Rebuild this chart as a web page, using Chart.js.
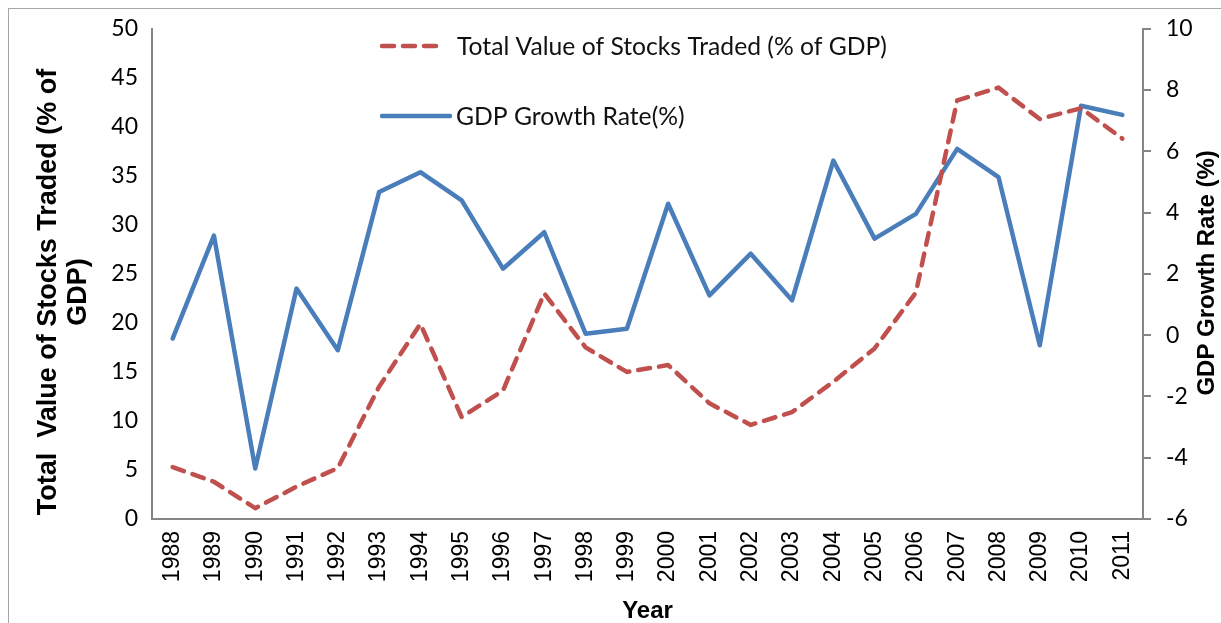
<!DOCTYPE html>
<html>
<head>
<meta charset="utf-8">
<script src="https://cdn.jsdelivr.net/npm/chart.js@4.4.1/dist/chart.umd.min.js"></script>
<style>
  html, body { margin: 0; padding: 0; background: #ffffff; }
  #wrap { position: relative; width: 1221px; height: 623px; overflow: hidden; }
  #frame { position: absolute; left: 8px; top: 8px; width: 2000px; height: 2000px;
           border: 1px solid #a6a6a6; pointer-events: none; }
  canvas { position: absolute; left: 0; top: 0; }
</style>
</head>
<body>
<div id="wrap">
  <canvas id="c" width="1221" height="623"></canvas>
  <div id="frame"></div>
</div>
<script>
// ---- data ----
const years = ['1988','1989','1990','1991','1992','1993','1994','1995','1996','1997','1998','1999',
               '2000','2001','2002','2003','2004','2005','2006','2007','2008','2009','2010','2011'];
const stocksTraded = [5.3, 3.8, 1.1, 3.3, 5.2, 13.5, 19.9, 10.4, 13.1, 23.0, 17.5, 15.0,
                      15.7, 11.8, 9.6, 10.9, 14.0, 17.4, 23.1, 42.7, 44.0, 40.8, 41.9, 38.8];
const gdpGrowth = [-0.11, 3.25, -4.35, 1.52, -0.49, 4.67, 5.32, 4.40, 2.17, 3.36, 0.05, 0.21,
                   4.29, 1.30, 2.66, 1.14, 5.70, 3.15, 3.96, 6.08, 5.16, -0.33, 7.49, 7.19];
const seriesNames = ['Total Value of Stocks Traded (% of GDP)', 'GDP Growth Rate(%)'];
const leftTitle = ['Total  Value of Stocks Traded (% of', 'GDP)'];
const rightTitle = 'GDP Growth Rate (%)';
const xTitle = 'Year';

const RED = '#C0504D';
const BLUE = '#4A7EBB';
const AXIS = '#868686';
const TITLE_FONT = '"Liberation Sans", Arial, sans-serif';

const extras = {
  id: 'extras',
  afterDraw(chart) {
    const ctx = chart.ctx;
    const area = chart.chartArea;

    // left axis title, two lines, reads bottom to top
    ctx.save();
    ctx.font = 'bold 27px ' + TITLE_FONT;
    ctx.fillStyle = '#000';
    ctx.textAlign = 'center';
    ctx.textBaseline = 'middle';
    ctx.translate(49, 292);
    ctx.rotate(-Math.PI / 2);
    ctx.fillText(leftTitle[0], 0, 0);
    ctx.fillText(leftTitle[1], 0, 30);
    ctx.restore();

    // right axis title (reads bottom to top)
    ctx.save();
    ctx.font = 'bold 24px ' + TITLE_FONT;
    ctx.fillStyle = '#000';
    ctx.textAlign = 'center';
    ctx.textBaseline = 'middle';
    ctx.translate(1207, (area.top + area.bottom) / 2 - 1);
    ctx.rotate(-Math.PI / 2);
    ctx.fillText(rightTitle, 0, 0);
    ctx.restore();

    // legend inside the plot
    const items = [
      { ds: chart.data.datasets[0], x0: 382, x1: 441, y: 46, tx: 457, w: 430 },
      { ds: chart.data.datasets[1], x0: 382, x1: 450, y: 116, tx: 456, w: 227 }
    ];
    ctx.save();
    ctx.font = '24px Lato, sans-serif';
    const fit = items[0].w / ctx.measureText(items[0].ds.label).width;
    ctx.restore();
    const fs = (24 * fit).toFixed(2);
    items.forEach(it => {
      ctx.save();
      ctx.strokeStyle = it.ds.borderColor;
      ctx.lineWidth = it.ds.borderWidth;
      ctx.lineCap = 'round';
      ctx.setLineDash(it.ds.borderDash || []);
      ctx.beginPath();
      ctx.moveTo(it.x0, it.y);
      ctx.lineTo(it.x1, it.y);
      ctx.stroke();
      ctx.restore();
      ctx.save();
      ctx.fillStyle = '#111';
      ctx.textAlign = 'left';
      ctx.textBaseline = 'middle';
      ctx.font = fs + 'px Lato, sans-serif';
      ctx.fillText(it.ds.label, it.tx, it.y + 1);
      ctx.restore();
    });
  }
};

new Chart(document.getElementById('c'), {
  type: 'line',
  data: {
    labels: years,
    datasets: [
      {
        label: seriesNames[0],
        data: stocksTraded,
        yAxisID: 'y',
        borderColor: RED,
        backgroundColor: RED,
        borderWidth: 4.5,
        borderDash: [12, 9],
        borderCapStyle: 'round',
        borderJoinStyle: 'round',
        pointRadius: 0,
        tension: 0,
        order: 0
      },
      {
        label: seriesNames[1],
        data: gdpGrowth,
        yAxisID: 'y1',
        borderColor: BLUE,
        backgroundColor: BLUE,
        borderWidth: 4.5,
        borderCapStyle: 'round',
        borderJoinStyle: 'round',
        pointRadius: 0,
        tension: 0,
        order: 1
      }
    ]
  },
  options: {
    responsive: false,
    animation: false,
    devicePixelRatio: 1,
    layout: { padding: { top: 28, left: 0, right: 0, bottom: 0 } },
    plugins: { legend: { display: false }, tooltip: { enabled: false }, title: { display: false } },
    scales: {
      x: {
        type: 'category',
        offset: true,
        grid: { display: false, drawTicks: false },
        border: { display: true, color: AXIS, width: 2 },
        ticks: {
          autoSkip: false, minRotation: 90, maxRotation: 90, padding: 12,
          color: '#000', font: { family: TITLE_FONT, size: 23 }
        },
        title: {
          display: true, text: xTitle, color: '#000',
          font: { family: TITLE_FONT, size: 24, weight: 'bold', lineHeight: 1.2 },
          padding: { top: 0, bottom: -3 }
        },
        afterFit(s) { s.height = 104; }
      },
      y: {
        position: 'left',
        min: 0, max: 50,
        ticks: { stepSize: 5, padding: 14, color: '#000', font: { family: 'Lato, sans-serif', size: 23 } },
        grid: { display: false, drawTicks: false },
        border: { display: true, color: AXIS, width: 2 },
        title: { display: false },
        afterFit(s) { s.width = 152; }
      },
      y1: {
        position: 'right',
        min: -6, max: 10,
        ticks: { stepSize: 2, padding: 15, color: '#000', font: { family: 'Lato, sans-serif', size: 23 } },
        grid: { display: true, drawOnChartArea: false, drawTicks: true, tickLength: 8, color: AXIS, lineWidth: 2 },
        border: { display: true, color: AXIS, width: 2 },
        afterFit(s) { s.width = 78; }
      }
    }
  },
  plugins: [extras]
});
</script>
</body>
</html>
